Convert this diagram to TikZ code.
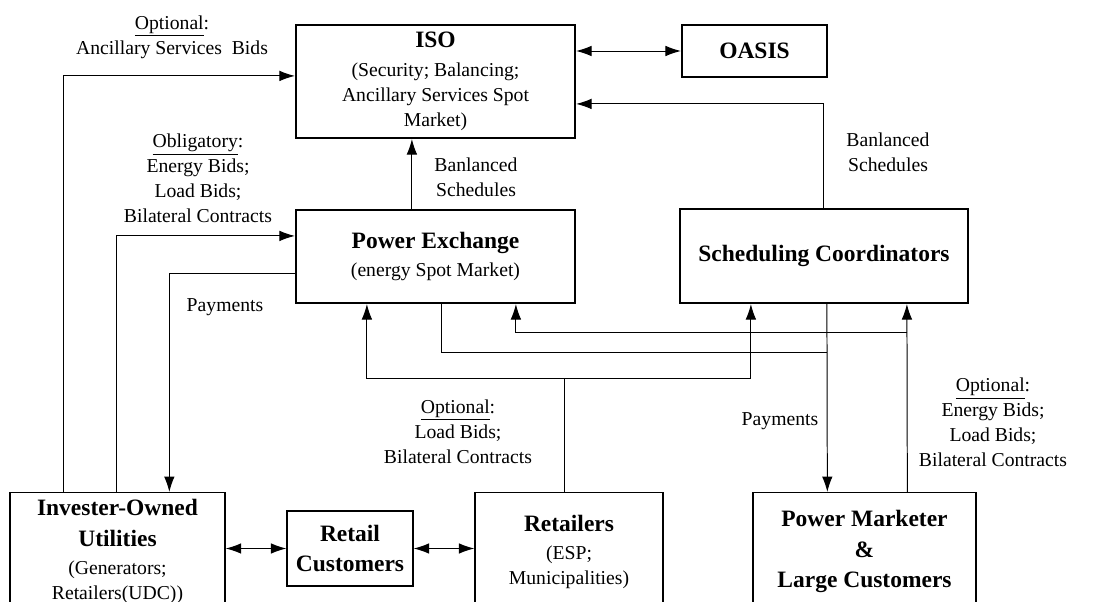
\documentclass[tikz,border=0pt]{standalone}
\usepackage{fontspec}
\setmainfont{Liberation Serif}
\usetikzlibrary{calc,arrows.meta}

\newcommand{\boxtitle}{\fontsize{16.7}{21.7}\selectfont\bfseries}
\newcommand{\boxsub}{\fontsize{14}{17.8}\selectfont\mdseries}

\begin{document}
\begin{tikzpicture}[
    x=0.025cm, y=-0.025cm,
    mainbox/.style={rectangle, draw, line width=1.5pt, align=center, inner sep=2pt, font=\boxsub},
    subbox/.style={rectangle, draw, line width=0.9pt, align=center, inner sep=2pt, font=\boxsub},
    arrow/.style={-{Latex[length=11pt,width=7.5pt]}, line width=0.7pt},
    biarrow/.style={{Latex[length=11pt,width=7.5pt]}-{Latex[length=11pt,width=7.5pt]}, line width=0.7pt},
    wire/.style={line width=0.7pt},
    lbl/.style={align=center, inner sep=0pt, font=\boxsub}
]
\useasboundingbox (0,0) rectangle (1100,602);

% Market operators
\node[mainbox, minimum width=6.975cm, minimum height=2.825cm] (iso) at (435.5,81.5)
    {\boxtitle ISO\\[3pt]\boxsub (Security; Balancing;\\\boxsub Ancillary Services Spot\\\boxsub Market)};
\node[mainbox, minimum width=3.625cm, minimum height=1.3cm] (oasis) at (754.5,51)
    {\boxtitle OASIS};
\node[mainbox, minimum width=6.975cm, minimum height=2.325cm] (px) at (435.5,256.5)
    {\boxtitle Power Exchange\\[1.5pt]\boxsub (energy Spot Market)};
\node[mainbox, minimum width=7.2cm, minimum height=2.35cm] (sc) at (824,256)
    {\boxtitle Scheduling Coordinators};

% Participants
\node[subbox, anchor=north, minimum width=5.375cm, minimum height=2.95cm] (iou) at (117.5,492)
    {\boxtitle Invester-Owned\\[4pt]\boxtitle Utilities\\[2pt]\boxsub (Generators;\\\boxsub Retailers(UDC))};
\node[subbox, minimum width=3.15cm, minimum height=1.875cm, font=\boxtitle] (rc) at (350,548.5)
    {Retail\\Customers};
\node[subbox, anchor=north, minimum width=4.7cm, minimum height=2.95cm] (ret) at (569,492)
    {\boxtitle Retailers\\[2pt]\boxsub (ESP;\\\boxsub Municipalities)};
\node[subbox, anchor=north, minimum width=5.575cm, minimum height=2.95cm, font=\boxtitle] (pm) at (864.5,492)
    {Power Marketer\\\&\\Large Customers};

% Connectors
\draw[biarrow] (oasis.west -| iso.east) -- (oasis.west);
\draw[arrow] ($(px.north west)+(117,0)$) -- ($(iso.south west)+(117,0)$);
\draw[arrow] ($(sc.north west)+(145,0)$) |- ($(iso.north east)+(0,80)$);
\draw[arrow] ($(iou.north west)+(54,0)$) |- ($(iso.north west)+(0,52)$);
\draw[arrow] ($(iou.north west)+(107,0)$) |- ($(px.north west)+(0,27)$);
\draw[arrow] ($(px.north west)+(0,65)$) -| ($(iou.north west)+(160,0)$);

\coordinate (retjoin) at ($(ret.north west)+(90,-114)$);
\draw[wire] ($(ret.north west)+(90,0)$) -- (retjoin);
\draw[arrow] (retjoin) -| ($(px.south west)+(72,0)$);
\draw[arrow] (retjoin) -| ($(sc.south west)+(72,0)$);

\draw[wire] ($(px.south west)+(147,0)$) |- ($(sc.south west)+(148,48)$);
\draw[arrow] ($(sc.south west)+(148,0)$) -- ($(pm.north west)+(75,0)$);

\draw[arrow] ($(pm.north west)+(155,0)$) -- ($(sc.south west)+(228,0)$);
\draw[arrow] ($(pm.north west)+(155,-160)$) -| ($(px.south west)+(221,0)$);

\draw[biarrow] (rc.west -| iou.east) -- (rc.west);
\draw[biarrow] (rc.east) -- (rc.east -| ret.west);

% Labels
\node[lbl] (lblanc) at (172,37) {\underline{Optional}:\\Ancillary Services~ Bids};
\node[lbl] (lblobl) at (198,178.5) {\underline{Obligatory}:\\Energy Bids;\\Load Bids;\\Bilateral Contracts};
\node[lbl] (lblpxbal) at (476,177) {Banlanced\\Schedules};
\node[lbl] (lblscbal) at (888,152.5) {Banlanced\\Schedules};
\node[lbl] (lblpay) at (225,307) {Payments};
\node[lbl] (lblpaypm) at (780,421) {Payments};
\node[lbl] (lblret) at (458,431.5) {\underline{Optional}:\\Load Bids;\\Bilateral Contracts};
\node[lbl] (lblpm) at (993,422.5) {\underline{Optional}:\\Energy Bids;\\Load Bids;\\Bilateral Contracts};

\end{tikzpicture}
\end{document}
